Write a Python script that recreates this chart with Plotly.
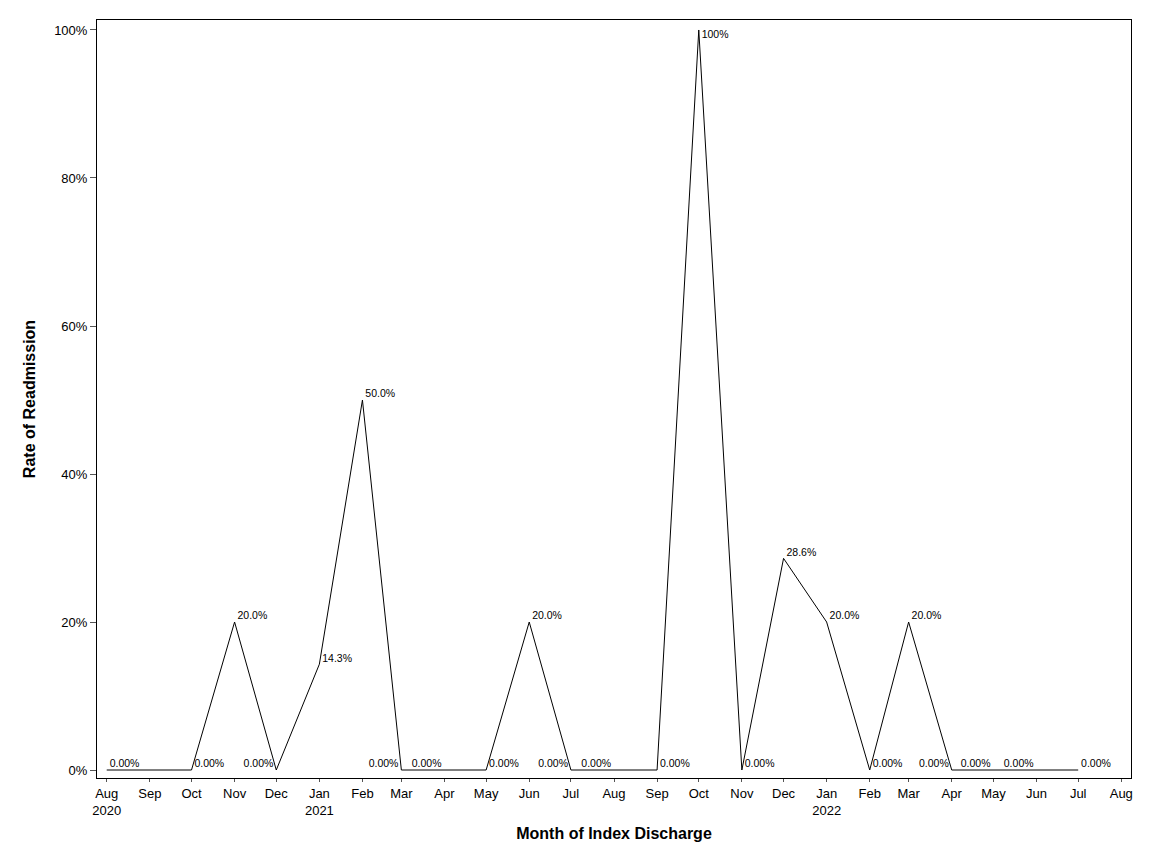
import plotly.graph_objects as go

# monthly readmission rate (fraction); Sep 2020 has no point
months = ['2020-08-01', '2020-09-01', '2020-10-01', '2020-11-01', '2020-12-01',
          '2021-01-01', '2021-02-01', '2021-03-01', '2021-04-01', '2021-05-01',
          '2021-06-01', '2021-07-01', '2021-08-01', '2021-09-01', '2021-10-01',
          '2021-11-01', '2021-12-01', '2022-01-01', '2022-02-01', '2022-03-01',
          '2022-04-01', '2022-05-01', '2022-06-01', '2022-07-01']
rates = [0.0, None, 0.0, 0.20, 0.0,
         0.143, 0.50, 0.0, 0.0, 0.0,
         0.20, 0.0, 0.0, 0.0, 1.0,
         0.0, 0.286, 0.20, 0.0, 0.20,
         0.0, 0.0, 0.0, 0.0]
labels = ['0.00%', '', '0.00%', '20.0%', '0.00%',
          '14.3%', '50.0%', '0.00%', '0.00%', '0.00%',
          '20.0%', '0.00%', '0.00%', '0.00%', '100%',
          '0.00%', '28.6%', '20.0%', '0.00%', '20.0%',
          '0.00%', '0.00%', '0.00%', '0.00%']
label_side = ['top right', 'top right', 'top right', 'top right', 'top left',
              'top right', 'top right', 'top left', 'top left', 'top right',
              'top right', 'top left', 'top left', 'top right', 'bottom right',
              'top right', 'top right', 'top right', 'top right', 'top right',
              'top left', 'top left', 'top left', 'top right']

tick_dates = ['2020-08-01', '2020-09-01', '2020-10-01', '2020-11-01', '2020-12-01',
              '2021-01-01', '2021-02-01', '2021-03-01', '2021-04-01', '2021-05-01',
              '2021-06-01', '2021-07-01', '2021-08-01', '2021-09-01', '2021-10-01',
              '2021-11-01', '2021-12-01', '2022-01-01', '2022-02-01', '2022-03-01',
              '2022-04-01', '2022-05-01', '2022-06-01', '2022-07-01', '2022-08-01']
tick_text = ['Aug<br>2020', 'Sep', 'Oct', 'Nov', 'Dec',
             'Jan<br>2021', 'Feb', 'Mar', 'Apr', 'May',
             'Jun', 'Jul', 'Aug', 'Sep', 'Oct',
             'Nov', 'Dec', 'Jan<br>2022', 'Feb', 'Mar',
             'Apr', 'May', 'Jun', 'Jul', 'Aug']

font = 'Liberation Sans, Arial, sans-serif'
x_range = ['2020-07-25', '2022-08-08']

# a little padding between the point and its label
padded = [(' ' + t) if 'right' in s else (t + ' ') for t, s in zip(labels, label_side)]

fig = go.Figure()
fig.add_trace(go.Scatter(
    x=months, y=rates,
    mode='lines+text',
    text=padded,
    textposition=label_side,
    textfont=dict(size=10.5, color='black', family=font),
    line=dict(color='black', width=1),
    connectgaps=True,
    showlegend=False))

# page body adds an 8px offset, margins compensate for it
fig.update_layout(
    width=1152, height=864,
    margin=dict(l=89, r=29, t=12, b=94),
    plot_bgcolor='white', paper_bgcolor='white',
    font=dict(family=font, size=13, color='black'),
    xaxis=dict(
        type='date',
        range=x_range,
        tickvals=tick_dates, ticktext=tick_text,
        ticks='outside', ticklen=3, tickcolor='#555',
        showgrid=False, zeroline=False,
        showline=True, linecolor='black', linewidth=1, mirror=True,
        title=dict(text='<b>Month of Index Discharge</b>', font=dict(size=16), standoff=11),
    ),
    # inner half of the x ticks (they cross the axis line)
    xaxis2=dict(
        type='date', overlaying='x', side='bottom', matches='x',
        range=x_range, tickvals=tick_dates,
        ticks='inside', ticklen=4, tickcolor='#555',
        showticklabels=False, showgrid=False, zeroline=False, showline=False,
    ),
    yaxis=dict(
        range=[-0.0108, 1.0135],
        tickvals=[0, 0.2, 0.4, 0.6, 0.8, 1.0],
        tickformat='.0%',
        ticks='outside', ticklen=6, tickcolor='#555',
        showgrid=False, zeroline=False,
        showline=True, linecolor='black', linewidth=1, mirror=True,
        title=dict(text='<b>Rate of Readmission</b>', font=dict(size=16), standoff=14),
    ),
)

fig.write_html("out.html")
